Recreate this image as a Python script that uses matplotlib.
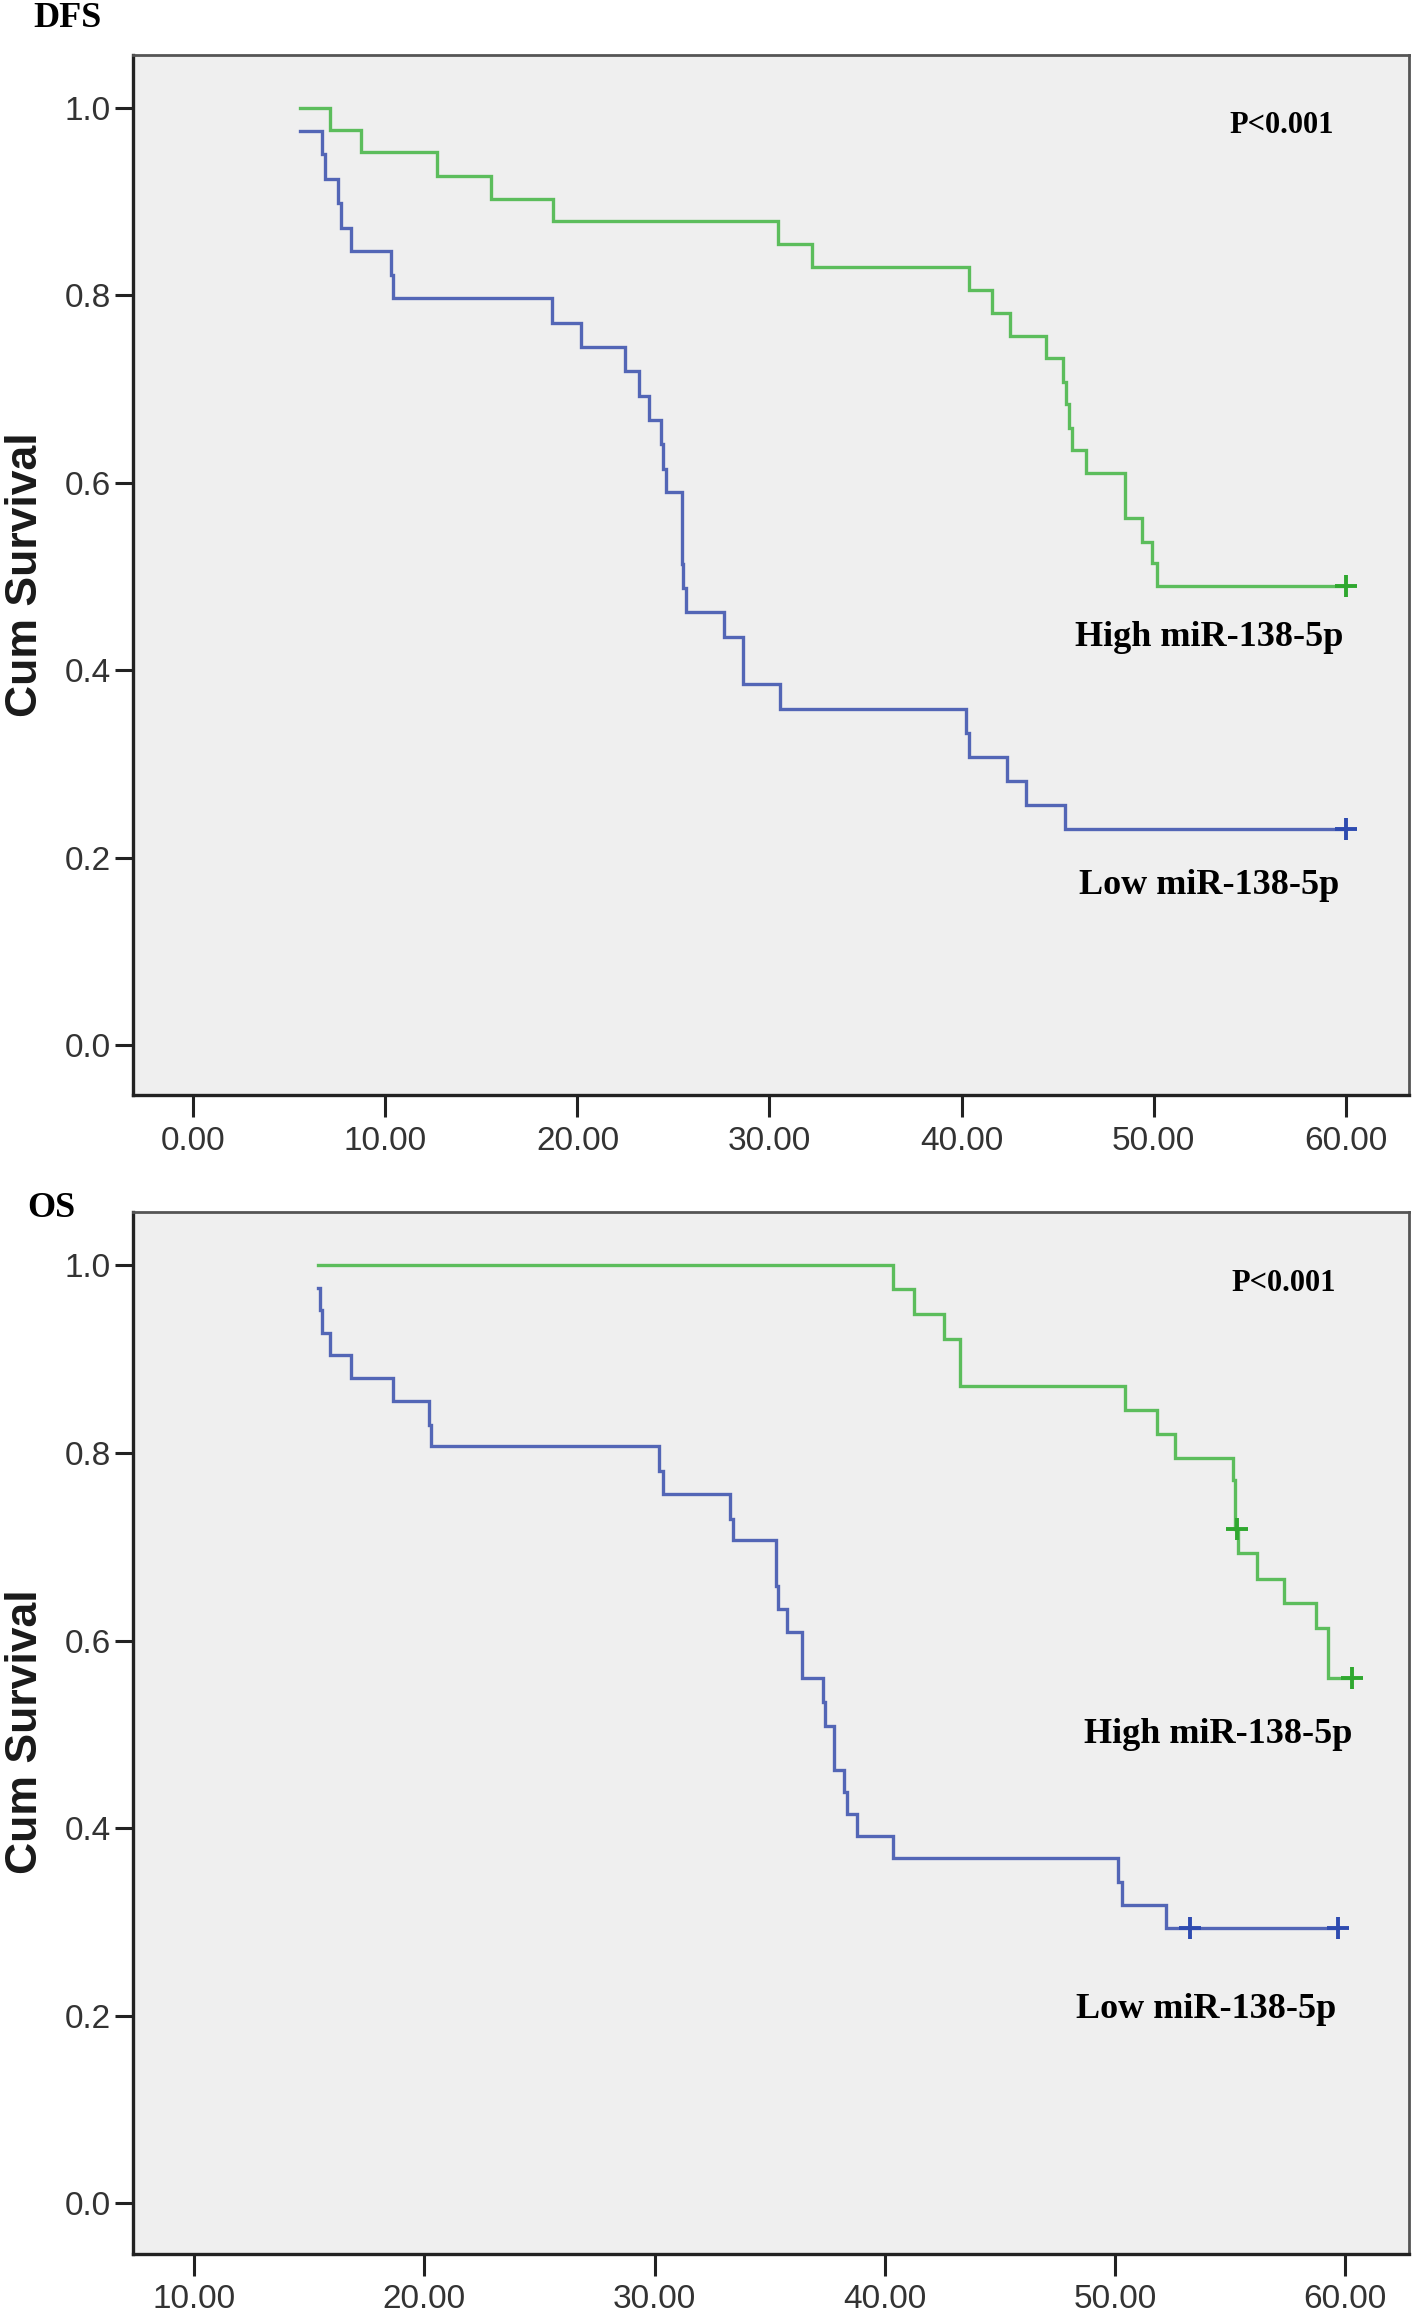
import matplotlib
matplotlib.use("Agg")
import matplotlib.pyplot as plt

# Kaplan-Meier step data (time, survival after event)
dfs_high_start = (5.56, 1.0)
dfs_high_times = [7.09, 8.74, 12.69, 15.49, 18.73, 30.45, 32.2, 40.4, 41.6, 42.5,
                  44.4, 45.3, 45.45, 45.6, 45.75, 46.5, 48.5, 49.4, 49.9, 50.2]
dfs_high_surv = [0.976, 0.953, 0.927, 0.903, 0.879, 0.855, 0.830, 0.806, 0.781, 0.757,
                 0.733, 0.708, 0.684, 0.659, 0.635, 0.611, 0.562, 0.537, 0.514, 0.490]
dfs_high_cens = [(60.0, 0.490)]

dfs_low_start = (5.56, 0.975)
dfs_low_times = [6.69, 6.86, 7.52, 7.68, 8.22, 10.27, 10.4, 18.66, 20.19, 22.49,
                 23.2, 23.72, 24.37, 24.45, 24.6, 25.43, 25.5, 25.65, 27.62, 28.63,
                 30.53, 40.23, 40.4, 42.37, 43.34, 45.38]
dfs_low_surv = [0.951, 0.924, 0.898, 0.872, 0.847, 0.822, 0.797, 0.770, 0.745, 0.719,
                0.693, 0.667, 0.641, 0.615, 0.590, 0.513, 0.488, 0.462, 0.436, 0.385,
                0.359, 0.333, 0.308, 0.282, 0.256, 0.231]
dfs_low_cens = [(60.0, 0.231)]

os_high_start = (15.38, 1.0)
os_high_times = [40.36, 41.26, 42.55, 43.27, 50.41, 51.81, 52.60, 55.13, 55.2, 55.33,
                 56.18, 57.35, 58.74, 59.26]
os_high_surv = [0.975, 0.948, 0.922, 0.871, 0.846, 0.820, 0.795, 0.771, 0.719, 0.693,
                0.666, 0.640, 0.613, 0.560]
os_high_cens = [(55.28, 0.719), (60.27, 0.560)]

os_low_start = (15.38, 0.976)
os_low_times = [15.47, 15.55, 15.9, 16.83, 18.65, 20.2, 20.3, 30.21, 30.35, 33.29,
                33.4, 35.28, 35.35, 35.73, 36.41, 37.31, 37.4, 37.8, 38.22, 38.37,
                38.78, 40.36, 50.12, 50.30, 52.22]
os_low_surv = [0.953, 0.928, 0.905, 0.880, 0.855, 0.830, 0.807, 0.781, 0.756, 0.730,
               0.707, 0.658, 0.634, 0.609, 0.560, 0.534, 0.509, 0.462, 0.439, 0.415,
               0.392, 0.368, 0.343, 0.318, 0.293]
os_low_cens = [(53.26, 0.293), (59.69, 0.293)]

y_ticks = [0.0, 0.2, 0.4, 0.6, 0.8, 1.0]
dfs_xticks = [0, 10, 20, 30, 40, 50, 60]
os_xticks = [10, 20, 30, 40, 50, 60]

GREEN, GREEN_M = "#5cbd5c", "#2fa82f"
BLUE, BLUE_M = "#5366b6", "#2e4bb0"
SERIF = ["Liberation Serif", "DejaVu Serif"]
SANS = ["Liberation Sans", "DejaVu Sans"]


def km(ax, start, times, surv, cens, color, mcolor):
    end = cens[-1][0]
    xs = [start[0]] + times + [end]
    ys = [start[1]] + surv + [surv[-1]]
    ax.step(xs, ys, where="post", color=color, lw=2.4, solid_joinstyle="miter")
    ax.plot([c[0] for c in cens], [c[1] for c in cens], "+", color=mcolor,
            ms=16, mew=2.8, ls="none")


def style(ax, xlim, ylim, xticks):
    ax.set_facecolor("#efefef")
    ax.set_xlim(*xlim)
    ax.set_ylim(*ylim)
    ax.set_xticks(xticks)
    ax.set_xticklabels(["%.2f" % v for v in xticks])
    ax.set_yticks(y_ticks)
    ax.set_yticklabels(["%.1f" % v for v in y_ticks])
    for s in ["left", "bottom"]:
        ax.spines[s].set_linewidth(2.4)
        ax.spines[s].set_color("#222222")
    for s in ["top", "right"]:
        ax.spines[s].set_linewidth(2.0)
        ax.spines[s].set_color("#555555")
    ax.tick_params(axis="x", length=16, width=2.2, pad=6, color="#222222")
    ax.tick_params(axis="y", length=13, width=2.2, pad=3, color="#222222")
    for lab in ax.get_xticklabels() + ax.get_yticklabels():
        lab.set_family(SANS)
        lab.set_fontsize(24)
        lab.set_color("#333333")


fig = plt.figure(figsize=(14.16, 23.16), dpi=100)
ax1 = fig.add_axes([0.094, 0.527, 0.901, 0.4494])
ax2 = fig.add_axes([0.094, 0.0269, 0.901, 0.4496])

km(ax1, dfs_high_start, dfs_high_times, dfs_high_surv, dfs_high_cens, GREEN, GREEN_M)
km(ax1, dfs_low_start, dfs_low_times, dfs_low_surv, dfs_low_cens, BLUE, BLUE_M)
style(ax1, (-3.14, 63.3), (-0.0533, 1.0566), dfs_xticks)

km(ax2, os_high_start, os_high_times, os_high_surv, os_high_cens, GREEN, GREEN_M)
km(ax2, os_low_start, os_low_times, os_low_surv, os_low_cens, BLUE, BLUE_M)
style(ax2, (7.35, 62.76), (-0.0539, 1.0566), os_xticks)

tkw = dict(family=SERIF, fontweight="bold", ha="center", va="center")
ax1.text(56.65, 0.981, "P<0.001", fontsize=22, **tkw)
ax1.text(52.9, 0.435, "High miR-138-5p", fontsize=26, **tkw)
ax1.text(52.9, 0.171, "Low miR-138-5p", fontsize=26, **tkw)

ax2.text(57.34, 0.981, "P<0.001", fontsize=22, **tkw)
ax2.text(54.49, 0.500, "High miR-138-5p", fontsize=26, **tkw)
ax2.text(53.97, 0.207, "Low miR-138-5p", fontsize=26, **tkw)

fig.text(0.0235, 0.9918, "DFS", fontsize=26, family=SERIF, fontweight="bold",
         ha="left", va="center")
fig.text(0.019, 0.4784, "OS", fontsize=26, family=SERIF, fontweight="bold",
         ha="left", va="center")

for yc in [0.7517, 0.2522]:
    fig.text(0.0177, yc, "Cum Survival", fontsize=32, family=SANS, fontweight="bold",
             rotation=90, ha="center", va="center", color="#1a1a1a")

fig.savefig("out.png", dpi=100, facecolor="white")
